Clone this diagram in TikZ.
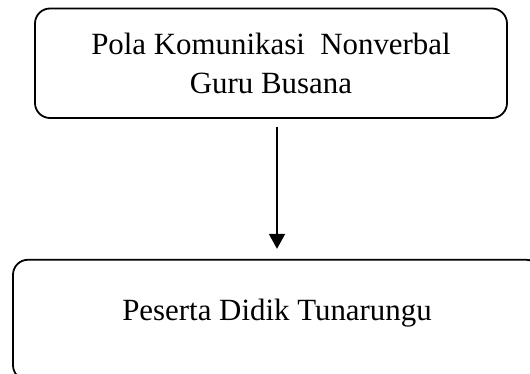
\documentclass[tikz,border=0pt]{standalone}
\usepackage{fontspec}
\setmainfont{Liberation Serif}
\usetikzlibrary{arrows.meta}

\begin{document}
\begin{tikzpicture}[x=1bp,y=-1bp,
   kotak/.style={draw=black,line width=1.8bp,rounded corners=15bp,align=center,
     font=\fontsize{31}{39}\selectfont},
   panah/.style={line width=1.8bp,-{Triangle[width=16bp,length=15bp]}}]
   \useasboundingbox (0,0) rectangle (530,373);
   \clip (0,0) rectangle (530,373);
   \node[kotak,minimum width=472bp,minimum height=109.5bp] (komunikasi) at (271,63.25)
     {Pola Komunikasi\ \ Nonverbal\\Guru Busana};
   \node[kotak,minimum width=528bp,minimum height=120.5bp,text height=20bp,text depth=20bp]
     (peserta) at (277,320) {Peserta Didik Tunarungu};
   \draw[panah,shorten <=8bp,shorten >=10bp] (komunikasi.south -| peserta.north) -- (peserta.north);
  \end{tikzpicture}
\end{document}
